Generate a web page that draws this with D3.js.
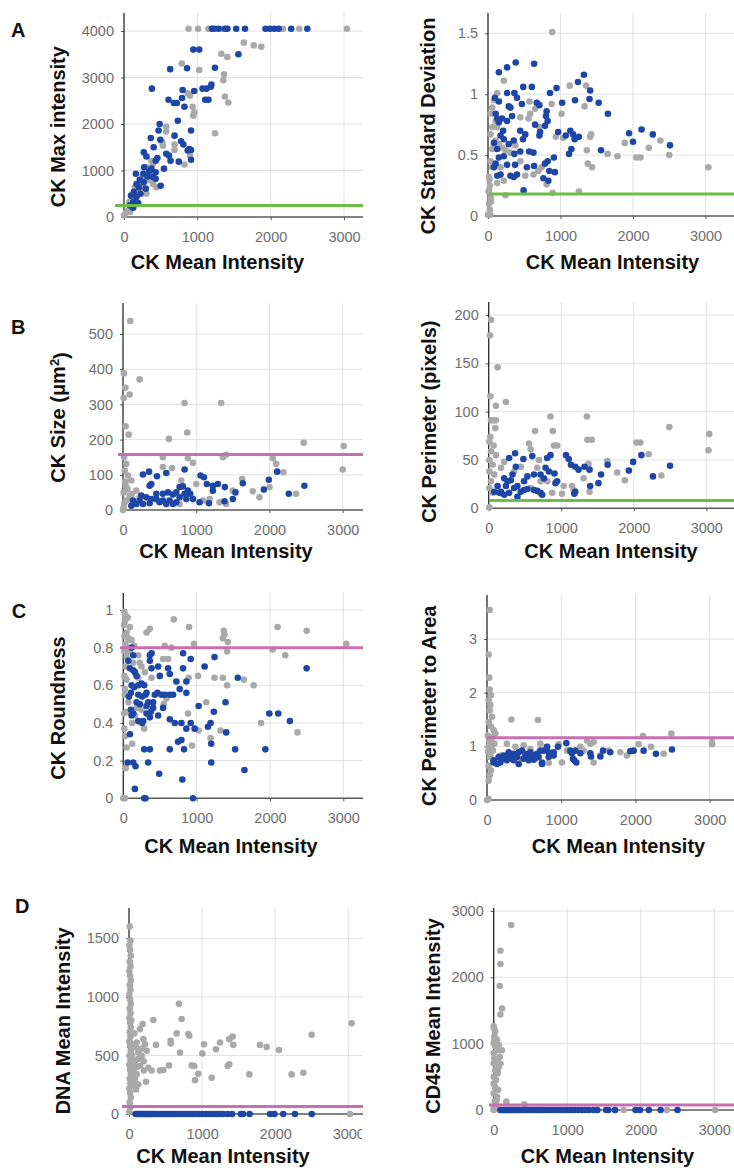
<!DOCTYPE html>
<html><head><meta charset="utf-8">
<script src="https://cdn.jsdelivr.net/npm/d3@7"></script>
<style>
body{margin:0;background:#fff}
svg{display:block}
text{font-family:"Liberation Sans",Arial,Helvetica,sans-serif}
</style>
</head><body>
<svg id="chart" width="734" height="1168"></svg>
<script>
// ---------------- DATA ----------------
const xTicks = [0, 1000, 2000, 3000];
const maxTicks = [0, 1000, 2000, 3000, 4000];
const sdTicks = [0, 0.5, 1, 1.5];
const sizeTicks = [0, 100, 200, 300, 400, 500];
const perimTicks = [0, 50, 100, 150, 200];
const roundTicks = [0, 0.2, 0.4, 0.6, 0.8, 1];
const p2aTicks = [0, 1, 2, 3];
const dnaTicks = [0, 500, 1000, 1500];
const cd45Ticks = [0, 1000, 2000, 3000];

const thresholds = {max: 250, sd: 0.18, size: 158, perim: 8, round: 0.8, p2a: 1.16, dna: 65, cd45: 75};

// A: CK max intensity vs CK mean
const maxBlue = [[1200,4050],[1230,4050],[1290,4050],[1380,4050],[1410,4050],[1530,4050],[1650,4050],[1930,4050],[1990,4050],[2050,4050],[2110,4050],[2280,4050],[2500,4050],
[945,3600],[1026,3600],[1560,3500],[630,3180],[860,3200],[1240,3210],[380,2760],[800,2730],[958,2710],[1071,2760],[1125,2760],[1183,2800],[1192,2850],[1107,2520],[1152,2520],[607,2520],[680,2450],[720,2450],[792,2560],[824,2370],[734,2070],[486,2000],[472,1860],[914,1860],[365,1700],[689,1750],[495,1660],[779,1630],[405,1500],[810,1560],[914,1440],[869,1430],[270,1390],[306,1300],[576,1360],[612,1320],[635,1210],[432,1210],[545,1040],[747,1190],[455,1270],[275,1070],[374,1040],[342,985],[162,930],[261,930],[320,870],[216,800],[270,750],[500,670],[171,710],[203,640],[297,610],[135,540],[225,500],[95,460],[171,430],[126,320],[194,300],[81,250],[126,200],[396,860],[432,820],[432,960],[914,1230],[891,1460]];
const maxGray = [[880,4050],[1010,4050],[1150,4050],[1340,4050],[2170,4050],[2390,4050],[3040,4050],[1634,3750],[1872,3660],[1769,3690],[1328,3510],[1409,3440],[788,3300],[1026,3160],[1364,3070],[1355,2940],[1377,2590],[1422,2460],[869,2660],[900,2610],[936,2370],[958,2250],[945,2180],[1242,1800],[576,1940],[576,1840],[522,1610],[689,1560],[689,1440],[900,1320],[824,1130],[531,1530],[374,1210],[396,1140],[261,860],[351,790],[239,680],[149,640],[216,570],[306,500],[104,430],[72,320],[104,210],[59,140],[27,90],[0,36],[81,110],[396,710],[351,930],[306,1070],[441,640]];

// A: CK standard deviation vs CK mean
const sdBlue = [[150,1.18],[264,1.22],[382,1.26],[636,1.25],[1323,1.16],[1241,1.10],[1409,1.03],[1400,0.96],[1527,0.93],[1654,0.84],[945,1.05],[855,1.01],[1200,0.95],[1023,0.93],[486,1.06],[605,1.06],[264,1.01],[364,1.01],[95,0.97],[150,0.94],[286,0.90],[309,0.89],[400,0.97],[468,0.92],[673,0.93],[709,0.91],[809,0.86],[800,0.82],[823,0.78],[786,0.74],[718,0.69],[709,0.66],[968,0.69],[1073,0.66],[1136,0.70],[1173,0.67],[1195,0.63],[1254,0.65],[1150,0.55],[1118,0.51],[1559,0.54],[1945,0.68],[2000,0.61],[2118,0.71],[2273,0.67],[2510,0.58],[105,0.84],[127,0.80],[150,0.77],[195,0.80],[264,0.78],[332,0.82],[209,0.70],[173,0.66],[218,0.63],[286,0.59],[355,0.62],[445,0.70],[514,0.67],[482,0.63],[650,0.75],[82,0.60],[127,0.55],[150,0.48],[105,0.43],[218,0.49],[364,0.51],[445,0.53],[568,0.53],[627,0.52],[264,0.42],[373,0.42],[536,0.40],[636,0.41],[786,0.43],[823,0.45],[909,0.48],[845,0.37],[922,0.36],[764,0.31],[832,0.29],[309,0.33],[355,0.32],[173,0.34],[127,0.33],[82,0.40],[491,0.21],[400,0.34]];
const sdGray = [[886,1.51],[218,1.11],[127,1.01],[82,0.95],[59,0.89],[36,0.84],[105,0.78],[59,0.73],[127,0.73],[36,0.67],[105,0.62],[59,0.55],[150,0.59],[195,0.56],[36,0.45],[59,0.40],[14,0.32],[27,0.25],[14,0.21],[36,0.15],[14,0.10],[0,0.01],[30,0.01],[241,0.17],[573,0.94],[650,0.88],[709,0.73],[445,0.81],[559,0.80],[1014,0.84],[1127,1.07],[1354,1.07],[1332,0.90],[936,0.65],[1036,0.64],[1423,0.67],[1409,0.65],[1363,0.54],[1377,0.43],[1436,0.40],[1650,0.51],[1786,0.49],[1886,0.60],[2045,0.48],[2104,0.48],[2218,0.56],[2377,0.62],[2500,0.50],[3040,0.40],[891,0.19],[1254,0.20],[809,0.26],[741,0.40],[695,0.37],[627,0.34],[377,0.58],[309,0.52],[241,0.54],[445,0.45],[514,0.33],[173,0.40],[218,0.29],[127,0.27],[582,0.84],[877,0.92],[20,0.30],[10,0.20],[40,0.12],[25,0.05]];

// B: CK size vs CK mean
const sizeBlue = [[273,101],[355,109],[464,96],[591,105],[841,115],[1059,98],[1105,93],[2105,109],[1991,86],[1923,58],[2477,69],[2264,46],[1636,76],[1536,50],[1500,31],[1386,25],[1295,74],[1391,65],[1227,69],[1145,74],[1227,55],[1173,19],[773,65],[818,67],[886,55],[918,46],[364,69],[386,74],[455,46],[545,46],[614,50],[682,44],[727,50],[773,36],[841,46],[250,41],[318,36],[386,31],[455,31],[545,27],[636,27],[727,22],[136,27],[182,17],[273,17],[364,19],[500,22],[591,17],[682,17],[114,12],[227,27],[864,31],[1045,22],[955,31]];
const sizeGray = [[100,537],[14,388],[32,347],[91,328],[9,318],[227,371],[36,238],[77,214],[841,304],[1341,304],[627,202],[877,220],[2468,191],[3013,182],[3000,115],[2045,147],[2091,131],[2191,107],[2364,46],[2000,65],[1773,53],[1864,36],[1627,88],[1364,150],[1409,157],[886,147],[955,134],[545,150],[545,122],[14,150],[45,131],[23,112],[68,98],[114,84],[36,69],[9,50],[91,41],[182,55],[227,36],[45,27],[9,8],[136,17],[668,119],[795,84],[1091,27],[1182,31],[1318,22],[1409,17],[773,17],[455,31],[1000,74],[1500,55],[0,0],[20,20],[60,60],[120,45],[30,80],[80,30]];

// B: CK perimeter vs CK mean
const perimBlue = [[282,52],[364,57],[478,51],[601,54],[806,52],[852,55],[1066,55],[1103,51],[1134,45],[1194,43],[1239,40],[1321,43],[1390,40],[1399,23],[1513,26],[1549,35],[1640,45],[1932,39],[1991,48],[2105,55],[2264,33],[2500,44],[374,43],[784,42],[829,38],[907,36],[943,28],[715,35],[761,31],[624,35],[533,33],[487,28],[214,31],[260,28],[305,29],[123,23],[77,17],[169,17],[214,14],[282,16],[351,21],[396,23],[442,17],[487,19],[533,20],[624,19],[670,18],[715,16],[738,14],[921,26],[1194,17],[1180,15],[146,16],[396,12],[328,35],[237,23]];
const perimGray = [[32,195],[18,179],[123,146],[23,116],[100,106],[237,110],[32,91],[68,91],[100,91],[91,83],[852,95],[1353,95],[638,80],[884,80],[900,65],[943,65],[1362,71],[1421,71],[2037,68],[2091,68],[2205,56],[1636,49],[1772,37],[1877,29],[2380,34],[2490,84],[3040,77],[3030,60],[556,67],[578,61],[23,74],[9,69],[68,65],[32,59],[100,55],[9,50],[55,45],[9,38],[77,35],[32,28],[9,21],[55,16],[9,1],[214,48],[351,38],[442,43],[693,50],[670,42],[715,28],[1034,23],[1011,15],[1148,23],[1376,46],[1390,17],[1171,19],[875,16],[807,28],[1308,31],[169,42],[579,21]];

// C: CK roundness vs CK mean
const roundBlue = [[158,0.05],[285,0],[303,0],[950,0],[805,0.10],[489,0.13],[1652,0.15],[1199,0.19],[59,0.19],[136,0.19],[167,0.17],[339,0.19],[285,0.26],[362,0.26],[634,0.26],[828,0.26],[1525,0.26],[1937,0.26],[747,0.30],[792,0.31],[1199,0.29],[1403,0.35],[1154,0.38],[1190,0.40],[860,0.37],[919,0.40],[973,0.37],[701,0.40],[792,0.40],[634,0.42],[362,0.43],[272,0.41],[475,0.44],[543,0.48],[376,0.46],[317,0.45],[90,0.34],[113,0.44],[136,0.45],[104,0.47],[204,0.41],[258,0.40],[1027,0.49],[1235,0.46],[1394,0.51],[1991,0.45],[2113,0.45],[2272,0.41],[2500,0.69],[1561,0.64],[1109,0.70],[1244,0.75],[919,0.74],[815,0.77],[362,0.76],[385,0.77],[113,0.80],[815,0.69],[724,0.62],[860,0.62],[860,0.56],[769,0.58],[611,0.69],[634,0.66],[498,0.65],[475,0.70],[362,0.73],[385,0.69],[90,0.69],[136,0.68],[158,0.67],[181,0.65],[113,0.60],[149,0.59],[204,0.60],[249,0.61],[285,0.60],[317,0.56],[204,0.55],[258,0.54],[303,0.55],[181,0.51],[226,0.50],[339,0.51],[407,0.51],[430,0.55],[466,0.56],[520,0.55],[566,0.55],[634,0.55],[679,0.55],[77,0.54],[104,0.56],[407,0.48],[317,0.49],[68,0.73],[136,0.76]];
const roundGray = [[688,0.95],[896,0.91],[1371,0.89],[1380,0.87],[1357,0.85],[1425,0.83],[1416,0.78],[2104,0.91],[2208,0.76],[2036,0.79],[317,0.88],[362,0.90],[566,0.81],[656,0.80],[964,0.82],[543,0.74],[1244,0.64],[1357,0.64],[1416,0.60],[1643,0.63],[1778,0.60],[1018,0.65],[891,0.64],[1131,0.51],[882,0.45],[1027,0.36],[1190,0.32],[1326,0.36],[937,0.28],[1878,0.40],[2376,0.35],[122,0.29],[32,0.16],[14,0.37],[23,0],[0,0],[3040,0.82],[2500,0.89],[14,0.99],[32,0.97],[59,0.96],[23,0.94],[90,0.91],[45,0.88],[14,0.86],[68,0.85],[113,0.84],[32,0.82],[149,0.81],[14,0.78],[45,0.75],[90,0.78],[204,0.76],[136,0.72],[32,0.70],[226,0.72],[249,0.70],[14,0.65],[45,0.63],[204,0.64],[294,0.67],[385,0.64],[23,0.58],[68,0.51],[181,0.48],[45,0.46],[249,0.47],[158,0.44],[285,0.37],[23,0.33],[45,0.27],[122,0.40],[611,0.74],[588,0.53],[552,0.50],[10,0.92],[20,0.55],[10,0.45]];

// C: CK perimeter to area vs CK mean
const p2aBlue = [[1069,1.06],[956,0.99],[808,0.99],[831,0.89],[763,0.92],[718,0.92],[674,0.86],[629,0.83],[584,0.89],[516,0.86],[471,0.92],[427,0.89],[359,0.86],[292,0.89],[225,0.83],[157,0.80],[90,0.74],[180,0.70],[269,0.74],[337,0.77],[404,0.80],[494,0.77],[561,0.74],[629,0.75],[696,0.80],[741,0.70],[831,0.80],[898,0.83],[1123,0.92],[1145,0.87],[1176,0.74],[1203,0.70],[1158,0.77],[1190,0.92],[1257,0.87],[1392,0.87],[1401,0.81],[1527,0.81],[1563,0.92],[1661,0.89],[1931,0.91],[1976,0.92],[2110,0.92],[2276,0.86],[2492,0.94],[898,0.89],[359,0.74],[427,0.67],[741,0.67],[90,0.70],[135,0.67],[300,0.80],[550,0.80],[650,0.78],[380,0.82],[200,0.76]];
const p2aGray = [[36,3.54],[22,2.71],[31,2.28],[36,2.06],[54,1.95],[22,1.86],[45,1.77],[36,1.67],[67,1.55],[22,1.45],[54,1.37],[328,1.50],[687,1.49],[90,1.30],[112,1.24],[67,1.17],[45,1.11],[99,1.05],[22,0.99],[81,0.92],[45,0.83],[90,0.74],[22,0.64],[54,0.55],[36,0.46],[22,0.36],[22,0.02],[0,0],[2101,1.19],[2483,1.24],[3031,1.08],[3031,1.04],[1347,1.11],[1392,1.05],[1437,1.08],[269,1.05],[382,0.99],[494,1.02],[584,0.95],[718,1.05],[808,0.99],[965,1.04],[1078,0.92],[1639,0.92],[1796,0.89],[1886,0.83],[2043,1.04],[2209,0.99],[2380,0.86],[1010,0.70],[831,0.69],[1437,0.70],[1302,0.92],[1257,0.99],[1527,0.83],[180,0.83],[314,0.80],[449,0.77],[10,1.20],[30,1.10],[15,0.90],[40,0.80],[60,1.00]];

// D: DNA mean intensity vs CK mean
const dnaGray = [[10,1600],[20,1480],[5,1440],[15,1400],[25,1350],[10,1300],[20,1260],[5,1220],[15,1180],[25,1140],[10,1100],[20,1060],[5,1020],[15,980],[25,940],[10,900],[20,860],[5,820],[15,780],[25,740],[10,700],[20,660],[5,620],[15,580],[25,540],[10,500],[20,460],[5,420],[15,380],[25,340],[10,300],[20,260],[5,220],[15,180],[25,140],[10,100],[20,60],[5,20],[30,800],[30,600],[30,450],[35,380],[40,500],[45,420],[50,350],[40,300],
[73,688],[105,610],[150,725],[187,768],[96,567],[196,639],[128,524],[173,496],[219,596],[242,539],[82,453],[150,410],[205,372],[105,338],[82,295],[128,252],[96,209],[264,395],[333,802],[369,590],[233,275],[310,372],[424,372],[470,375],[547,415],[570,625],[570,602],[698,524],[652,688],[684,940],[720,811],[812,682],[825,668],[857,415],[893,410],[903,289],[948,344],[1026,596],[1003,516],[1131,309],[1190,553],[1245,610],[1350,410],[1372,424],[1372,639],[1418,662],[1427,590],[1646,338],[1792,590],[1883,573],[2052,547],[2225,338],[2385,352],[2499,676],[3046,774],[3023,0],[60,380],[120,470],[200,450],[60,250],[100,400],[180,560]];
// CK-positive cells sit at ~0 on both D panels
const dBlueCK = [90,110,130,150,170,190,210,230,250,270,290,310,330,350,370,400,430,460,490,520,550,580,610,640,680,720,760,800,840,880,920,960,1000,1050,1100,1150,1200,1240,1290,1350,1410,1530,1560,1650,1930,1990,2110,2270,2500];
const dnaBlue = dBlueCK.map(v => [v, 0]);
const cd45Blue = dBlueCK.map(v => [v, 0]);
const cd45Gray = [[236,2790],[91,2400],[91,2200],[82,1870],[113,1530],[91,1440],[0,1260],[9,1220],[20,1180],[9,1110],[10,1050],[45,1060],[0,1010],[68,980],[23,960],[68,900],[113,900],[0,860],[82,800],[9,780],[45,730],[0,700],[91,700],[68,650],[23,600],[54,600],[54,550],[0,500],[30,450],[0,400],[15,350],[23,330],[60,300],[0,250],[45,200],[40,150],[14,130],[36,75],[0,50],[0,0],[172,126],[417,86],[1404,0],[1653,0],[1767,0],[2356,0],[3012,0]];

// ---------------- STYLE ----------------
const BLUE = "#1d46a6", GRAY = "#a9a9a9", GREEN = "#6dbe47", PINK = "#c76fb0";

const panels = [
  {blue:maxBlue, gray:maxGray, yTicks:maxTicks, thr:thresholds.max, thrColor:GREEN,
   x0:124, x3k:344, right:363, y0:217, yTopPx:31, top:13, thrStart:115,
   letter:"A", lx:11, ly:37, xt:"CK Mean Intensity", xtx:217.5, xty:269, yt:["CK Max intensity"], ytc:126.7, ytb:65},
  {blue:sdBlue, gray:sdGray, yTicks:sdTicks, thr:thresholds.sd, thrColor:GREEN,
   x0:488, x3k:705.5, right:734, y0:216, yTopPx:33.3, top:13, thrStart:489,
   xt:"CK Mean Intensity", xtx:612.5, xty:269, yt:["CK Standard Deviation"], ytc:126, ytb:435},
  {blue:sizeBlue, gray:sizeGray, yTicks:sizeTicks, thr:thresholds.size, thrColor:PINK,
   x0:123, x3k:342.7, right:363, y0:510, yTopPx:334, top:303, thrStart:118,
   letter:"B", lx:11, ly:334, xt:"CK Mean Intensity", xtx:226, xty:558, yt:["CK Size (μm","2",")"], ytc:417.5, ytb:65},
  {blue:perimBlue, gray:perimGray, yTicks:perimTicks, thr:thresholds.perim, thrColor:GREEN,
   x0:488.7, x3k:706.3, right:734, y0:508.3, yTopPx:315, top:302, thrStart:489,
   xt:"CK Mean Intensity", xtx:611, xty:558, yt:["CK Perimeter (pixels)"], ytc:421.7, ytb:435.5},
  {blue:roundBlue, gray:roundGray, yTicks:roundTicks, thr:thresholds.round, thrColor:PINK,
   x0:123.3, x3k:343.3, right:363, y0:798.3, yTopPx:610, top:593, thrStart:120,
   letter:"C", lx:11.7, ly:618, xt:"CK Mean Intensity", xtx:231, xty:852.7, yt:["CK Roundness"], ytc:708, ytb:65},
  {blue:p2aBlue, gray:p2aGray, yTicks:p2aTicks, thr:thresholds.p2a, thrColor:PINK,
   x0:487, x3k:709.7, right:734, y0:800, yTopPx:639, top:595, thrStart:487,
   xt:"CK Mean Intensity", xtx:618.5, xty:852.7, yt:["CK Perimeter to Area"], ytc:705.8, ytb:435.5},
  {blue:dnaBlue, gray:dnaGray, yTicks:dnaTicks, thr:thresholds.dna, thrColor:PINK,
   x0:129, x3k:348.3, right:363, y0:1114, yTopPx:938.3, top:908, thrStart:122, clipRight:362,
   letter:"D", lx:15, ly:913, xt:"CK Mean Intensity", xtx:223, xty:1162.7, yt:["DNA Mean Intensity"], ytc:1020.8, ytb:70},
  {blue:cd45Blue, gray:cd45Gray, yTicks:cd45Ticks, thr:thresholds.cd45, thrColor:PINK,
   x0:493.7, x3k:714.3, right:734, y0:1110, yTopPx:911, top:908, thrStart:489,
   xt:"CK Mean Intensity", xtx:607.5, xty:1163, yt:["CD45 Mean Intensity"], ytc:1016, ytb:439.5}
];

const svg = d3.select("#chart");
const defs = svg.append("defs");

panels.forEach((p, i) => {
  const yMaxTick = p.yTicks[p.yTicks.length - 1];
  const x = d3.scaleLinear().domain([0, 3000]).range([p.x0, p.x3k]);
  const y = d3.scaleLinear().domain([0, yMaxTick]).range([p.y0, p.yTopPx]);
  const g = svg.append("g");

  // grid
  g.selectAll(".hg").data(p.yTicks.filter(d => d !== 0)).join("line")
    .attr("x1", x(0)).attr("x2", p.right).attr("y1", d => y(d)).attr("y2", d => y(d))
    .attr("stroke", "#e1e1e1").attr("stroke-width", 1);
  g.selectAll(".vg").data(xTicks.filter(d => d !== 0)).join("line")
    .attr("x1", d => x(d)).attr("x2", d => x(d)).attr("y1", y(0)).attr("y2", p.top)
    .attr("stroke", "#e1e1e1").attr("stroke-width", 1);

  // axes (ticks + labels through d3 axes)
  const yAxis = d3.axisLeft(y).tickValues(p.yTicks).tickSize(3).tickPadding(7)
    .tickFormat(d => String(d));
  const yg = g.append("g").attr("transform", `translate(${x(0)},0)`).call(yAxis);
  const xAxis = d3.axisBottom(x).tickValues(xTicks).tickSize(3).tickPadding(11.5)
    .tickFormat(d => String(d));
  const xg = g.append("g").attr("transform", `translate(0,${y(0)})`).call(xAxis);
  [yg, xg].forEach(a => {
    a.select(".domain").remove();
    a.selectAll("line").attr("stroke", "#555");
    a.selectAll("text").attr("fill", "#6e6e6e").style("font-size", "14.5px")
      .style("font-family", '"Liberation Sans",Arial,sans-serif');
  });
  if (p.clipRight) {
    const id = "clip" + i;
    defs.append("clipPath").attr("id", id).append("rect")
      .attr("x", 0).attr("y", -10).attr("width", p.clipRight).attr("height", 60);
    xg.selectAll(".tick text").attr("clip-path", null);
    xg.attr("clip-path", null);
    const wrap = g.append("g").attr("clip-path", `url(#${id})`).attr("transform", `translate(0,${y(0)})`);
    xg.attr("transform", null);
    wrap.node().appendChild(xg.node());
  }

  // axis lines
  g.append("line").attr("x1", x(0)).attr("x2", p.right).attr("y1", y(0)).attr("y2", y(0))
    .attr("stroke", "#5a5a5a").attr("stroke-width", 1.5);
  g.append("line").attr("x1", x(0)).attr("x2", x(0)).attr("y1", y(0)).attr("y2", p.top)
    .attr("stroke", "#2a2a2a").attr("stroke-width", 1.3);

  // points
  g.append("g").selectAll("circle").data(p.gray).join("circle")
    .attr("cx", d => x(d[0])).attr("cy", d => y(d[1])).attr("r", 3.3).attr("fill", GRAY);
  g.append("g").selectAll("circle").data(p.blue).join("circle")
    .attr("cx", d => x(d[0])).attr("cy", d => y(d[1])).attr("r", 3.3).attr("fill", BLUE);

  // threshold
  g.append("line").attr("x1", p.thrStart).attr("x2", p.right)
    .attr("y1", y(p.thr)).attr("y2", y(p.thr))
    .attr("stroke", p.thrColor).attr("stroke-width", 3);

  // titles
  g.append("text").attr("x", p.xtx).attr("y", p.xty).attr("text-anchor", "middle")
    .style("font-size", "20px").style("font-weight", "bold").attr("fill", "#111").text(p.xt);
  const yt = g.append("text").attr("transform", `translate(${p.ytb},${p.ytc}) rotate(-90)`)
    .attr("text-anchor", "middle").style("font-size", "20px").style("font-weight", "bold").attr("fill", "#111");
  if (p.yt.length === 1) yt.text(p.yt[0]);
  else {
    yt.append("tspan").text(p.yt[0]);
    yt.append("tspan").attr("dy", "-0.45em").style("font-size", "13px").text(p.yt[1]);
    yt.append("tspan").attr("dy", "0.45em").text(p.yt[2]);
  }
  if (p.letter) {
    g.append("text").attr("x", p.lx).attr("y", p.ly).style("font-size", "20px")
      .style("font-weight", "bold").attr("fill", "#111").text(p.letter);
  }
});
</script>
</body></html>
